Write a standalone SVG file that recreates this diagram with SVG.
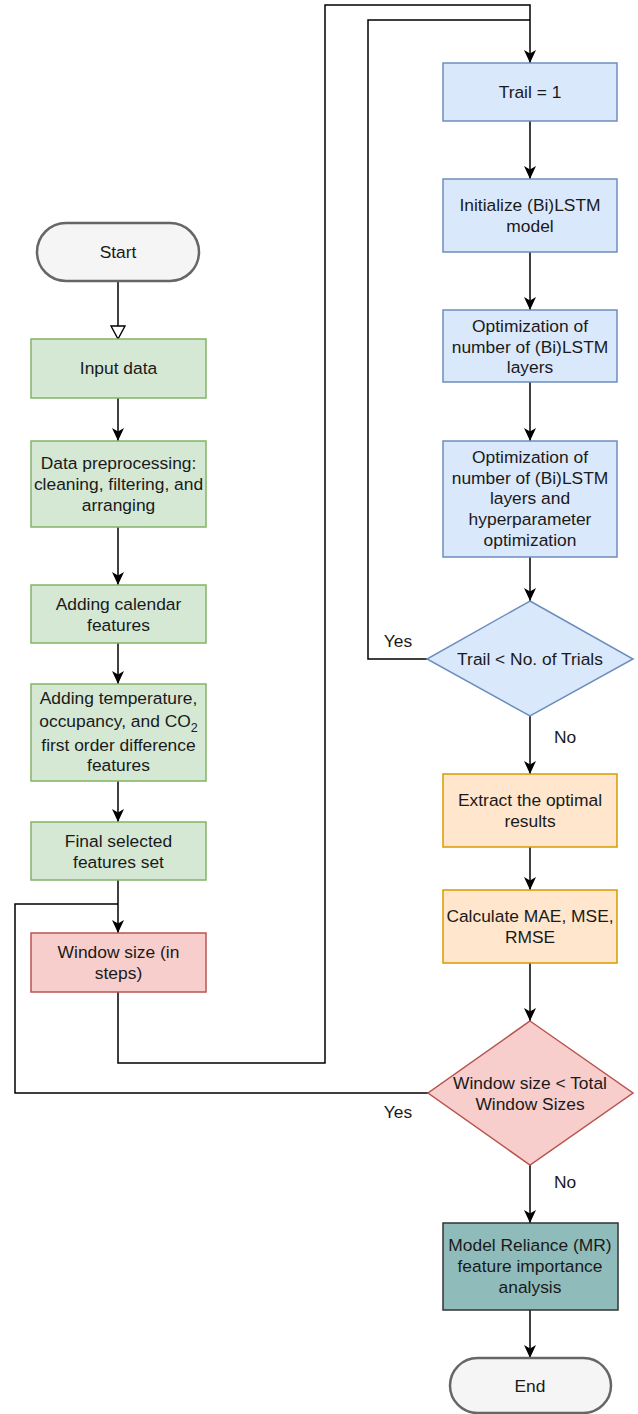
<svg xmlns="http://www.w3.org/2000/svg" width="638" height="1414" viewBox="0 0 638 1414">
<style>
text{font-family:"Liberation Sans",Arial,sans-serif;font-size:17.4px;fill:#1a1a1a;text-anchor:middle}
.g{fill:#d5e8d4;stroke:#82b366;stroke-width:1.5}
.b{fill:#dae8fc;stroke:#6c8ebf;stroke-width:1.5}
.o{fill:#ffe6cc;stroke:#d79b00;stroke-width:1.5}
.r{fill:#f8cecc;stroke:#b85450;stroke-width:1.5}
.t{fill:#8fbcbb;stroke:#333333;stroke-width:1.5}
.s{fill:#f5f5f5;stroke:#666666;stroke-width:2.5}
.c{fill:none;stroke:#000;stroke-width:1.5}
.a{marker-end:url(#arr)}
</style>
<defs>
<marker id="arr" viewBox="0 0 13 13" refX="13" refY="6.5" markerWidth="13" markerHeight="13" orient="auto" markerUnits="userSpaceOnUse">
<path d="M0,0.5 L13,6.5 L0,12.5 L3.5,6.5 Z" fill="#000"/>
</marker>
<marker id="open" viewBox="0 0 15 16" refX="14" refY="8" markerWidth="15" markerHeight="16" orient="auto" markerUnits="userSpaceOnUse">
<path d="M1,1 L14,8 L1,15 Z" fill="#fff" stroke="#000" stroke-width="1.4"/>
</marker>
</defs>
<g id="connectors">
<path class="c" d="M118,281 V339" marker-end="url(#open)"/>
<path class="c a" d="M118,398 V441"/>
<path class="c a" d="M118,527 V585"/>
<path class="c a" d="M118,643 V684"/>
<path class="c a" d="M118,781 V822"/>
<path class="c a" d="M118,880 V933"/>
<path class="c a" d="M118,992 V1063 H325 V5 H530 V63"/>
<path class="c" d="M427,659 H368 V20 H530"/>
<path class="c" d="M428,1093 H15 V904 H118"/>
<path class="c a" d="M530,121 V179"/>
<path class="c a" d="M530,252 V310"/>
<path class="c a" d="M530,382 V441"/>
<path class="c a" d="M530,557 V601"/>
<path class="c a" d="M530,716 V774"/>
<path class="c a" d="M530,847 V890"/>
<path class="c a" d="M530,963 V1021"/>
<path class="c a" d="M530,1165 V1223"/>
<path class="c a" d="M530,1310 V1358"/>
<text x="398" y="647">Yes</text>
<text x="565" y="743">No</text>
<text x="398" y="1118">Yes</text>
<text x="565" y="1188">No</text>
</g>
<g id="start"><rect class="s" x="37" y="223" width="162" height="58" rx="29"/><text x="118" y="258">Start</text></g>
<g id="input"><rect class="g" x="31" y="339" width="175" height="59"/><text x="118.5" y="374">Input data</text></g>
<g id="preprocess"><rect class="g" x="31" y="441" width="175" height="86"/><text x="118.5" y="469">Data preprocessing:</text><text x="118.5" y="490">cleaning, filtering, and</text><text x="118.5" y="511">arranging</text></g>
<g id="calendar"><rect class="g" x="31" y="585" width="175" height="58"/><text x="118.5" y="610">Adding calendar</text><text x="118.5" y="631">features</text></g>
<g id="temperature"><rect class="g" x="31" y="684" width="175" height="97"/><text x="118.5" y="704">Adding temperature,</text><text x="118.5" y="727">occupancy, and CO<tspan font-size="12.5" dy="5">2</tspan></text><text x="118.5" y="751">first order difference</text><text x="118.5" y="771">features</text></g>
<g id="final"><rect class="g" x="31" y="822" width="175" height="58"/><text x="118.5" y="847">Final selected</text><text x="118.5" y="868">features set</text></g>
<g id="window"><rect class="r" x="31" y="933" width="175" height="59"/><text x="118.5" y="958">Window size (in</text><text x="118.5" y="979">steps)</text></g>
<g id="trail"><rect class="b" x="443" y="63" width="174" height="58"/><text x="530" y="98">Trail = 1</text></g>
<g id="init"><rect class="b" x="443" y="179" width="174" height="73"/><text x="530" y="211">Initialize (Bi)LSTM</text><text x="530" y="232">model</text></g>
<g id="opt1"><rect class="b" x="443" y="310" width="174" height="72"/><text x="530" y="332">Optimization of</text><text x="530" y="353">number of (Bi)LSTM</text><text x="530" y="373">layers</text></g>
<g id="opt2"><rect class="b" x="443" y="441" width="174" height="116"/><text x="530" y="463">Optimization of</text><text x="530" y="484">number of (Bi)LSTM</text><text x="530" y="504">layers and</text><text x="530" y="525">hyperparameter</text><text x="530" y="546">optimization</text></g>
<g id="trialcheck"><polygon class="b" points="530,601 633,659 530,716 427,659"/><text x="530" y="665">Trail &lt; No. of Trials</text></g>
<g id="extract"><rect class="o" x="443" y="774" width="174" height="73"/><text x="530" y="806">Extract the optimal</text><text x="530" y="827">results</text></g>
<g id="calculate"><rect class="o" x="443" y="890" width="174" height="73"/><text x="530" y="922">Calculate MAE, MSE,</text><text x="530" y="943">RMSE</text></g>
<g id="windowcheck"><polygon class="r" points="530,1021 633,1093 530,1165 428,1093"/><text x="530" y="1089">Window size &lt; Total</text><text x="530" y="1110">Window Sizes</text></g>
<g id="mr"><rect class="t" x="443" y="1223" width="175" height="87"/><text x="530" y="1251">Model Reliance (MR)</text><text x="530" y="1272">feature importance</text><text x="530" y="1293">analysis</text></g>
<g id="end"><rect class="s" x="450" y="1358" width="161" height="55" rx="27.5"/><text x="530" y="1392">End</text></g>
</svg>
